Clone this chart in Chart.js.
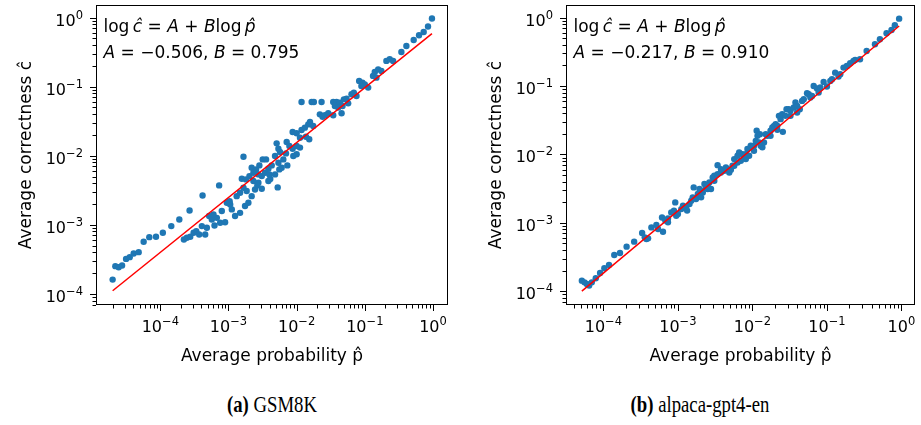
<!DOCTYPE html>
<html><head><meta charset="utf-8">
<script src="https://cdn.jsdelivr.net/npm/chart.js@4.4.1/dist/chart.umd.min.js"></script>
<style>
html,body{margin:0;padding:0;background:#fff;}
#wrap{position:relative;width:921px;height:425px;overflow:hidden;background:#fff;}
.cv{position:absolute;top:0;height:370px;}
.cap{position:absolute;top:390px;font-family:'Liberation Serif','Times New Roman',serif;font-size:24px;line-height:28px;white-space:nowrap;transform:translateX(-50%) scaleX(0.78);transform-origin:center;color:#000;}
</style></head>
<body><div id="wrap">
<div class="cv" style="left:0;width:460px"><canvas id="c1"></canvas></div>
<div class="cv" style="left:470px;width:451px"><canvas id="c2"></canvas></div>
<div class="cap" style="left:272px"><b>(a)</b> GSM8K</div>
<div class="cap" style="left:700px"><b>(b)</b> alpaca-gpt4-en</div>
</div>
<script>
// ---- data ----
const gsmP = [2.0e-5,2.19e-5,2.45e-5,2.75e-5,3.15e-5,3.56e-5,4.07e-5,4.82e-5,5.70e-5,6.90e-5,8.65e-5,1.09e-4,1.45e-4,1.90e-4,2.69e-4,4.17e-4,2.22e-4,2.45e-4,2.75e-4,3.08e-4,3.37e-4,3.72e-4,4.07e-4,4.56e-4,4.82e-4,5.21e-4,5.70e-4,6.24e-4,6.75e-4,7.55e-4,7.98e-4,7.30e-4,9.46e-4,1.06e-3,1.12e-3,1.25e-3,8.93e-4,1.48e-3,1.57e-3,1.75e-3,1.96e-3,2.19e-3,2.45e-3,2.75e-3,3.08e-3,3.85e-3,6.03e-4,1.04e-3,1.32e-3,1.48e-3,1.85e-3,1.66e-3,2.03e-3,1.81e-3,2.32e-3,2.65e-3,3.08e-3,4.1e-3,1.66e-3,2.19e-3,2.54e-3,2.75e-3,2.32e-3,3.44e-3,3.98e-3,4.82e-3,5.57e-3,2.84e-3,3.18e-3,3.56e-3,4.82e-3,5.70e-3,5.40e-3,6.38e-3,7.30e-3,4.31e-3,3.85e-3,6.03e-3,5.27e-3,5.09e-3,5.40e-3,7.14e-3,7.82e-3,8.73e-3,6.98e-3,1.00e-2,1.12e-2,8.93e-3,1.00e-2,8.73e-3,1.00e-2,1.18e-2,1.12e-2,1.37e-2,1.53e-2,1.57e-2,1.48e-2,1.32e-2,1.75e-2,2.19e-2,2.40e-2,2.60e-2,2.91e-2,3.44e-2,4.56e-2,1.18e-2,1.66e-2,1.79e-2,2.32e-2,3.44e-2,3.85e-2,4.31e-2,4.93e-2,5.40e-2,3.64e-2,4.07e-2,4.71e-2,6.38e-2,6.90e-2,7.55e-2,5.70e-2,8.26e-2,9.24e-2,1.00e-1,1.12e-1,1.32e-1,1.40e-1,1.57e-1,1.75e-1,1.48e-1,2.07e-1,2.32e-1,2.60e-1,3.44e-1,4.07e-1,5.21e-1,6.24e-1,7.30e-1,8.45e-1,9.66e-1,8.9e-2];
const gsmC = [1.61e-4,2.52e-4,2.43e-4,2.58e-4,3.21e-4,3.40e-4,3.85e-4,4.02e-4,5.68e-4,6.62e-4,6.70e-4,7.66e-4,9.57e-4,1.19e-3,1.61e-3,2.66e-3,6.12e-4,6.48e-4,6.70e-4,7.66e-4,8.09e-4,7.24e-4,9.57e-4,7.24e-4,9.06e-4,1.34e-3,1.19e-3,9.77e-4,1.26e-3,1.07e-3,1.58e-3,3.72e-3,2.08e-3,1.97e-3,1.67e-3,1.34e-3,1.09e-3,1.49e-3,4.64e-3,1.87e-3,2.08e-3,2.60e-3,3.25e-3,4.06e-3,5.07e-3,4.30e-3,1.41e-3,2.20e-3,2.60e-3,2.91e-3,3.08e-3,3.44e-3,5.07e-3,4.54e-3,4.30e-3,3.72e-3,3.33e-3,4.6e-3,9.68e-3,6.70e-3,6.34e-3,5.36e-3,5.68e-3,5.68e-3,5.36e-3,5.36e-3,6.34e-3,7.24e-3,8.85e-3,8.85e-3,9.89e-3,1.13e-2,7.92e-3,8.85e-3,7.24e-3,7.24e-3,6.48e-3,6.70e-3,3.48e-3,1.51e-2,1.26e-2,1.58e-2,1.38e-2,1.26e-2,1.08e-2,1.38e-2,1.31e-2,9.89e-3,1.05e-2,2.20e-2,2.11e-2,2.36e-2,1.82e-2,1.88e-2,1.73e-2,3.08e-2,2.84e-2,2.55e-2,2.69e-2,3.97e-2,3.67e-2,3.85e-2,4.11e-2,3.85e-2,4.11e-2,6.00e-2,6.00e-2,6.00e-2,6.00e-2,6.00e-2,6.00e-2,5.86e-2,6.55e-2,6.70e-2,5.25e-2,4.97e-2,5.25e-2,7.74e-2,8.18e-2,7.33e-2,5.73e-2,1.21e-1,1.14e-1,1.08e-1,9.68e-2,1.43e-1,1.63e-1,1.78e-1,1.69e-1,1.35e-1,2.36e-1,2.49e-1,2.36e-1,3.18e-1,3.88e-1,4.74e-1,5.55e-1,6.19e-1,7.41e-1,9.68e-1,1.02e-1];
const gsmFit = {A: -0.506, B: 0.795};
const gsmFitText = ['\u22120.506', '0.795'];

const alpP = [5.14e-5,5.58e-5,6.00e-5,6.44e-5,6.99e-5,7.90e-5,9.03e-5,1.03e-4,1.19e-4,1.40e-4,1.67e-4,2.05e-4,2.59e-4,3.31e-4,3.78e-4,3.98e-4,4.41e-4,5.14e-4,5.41e-4,6.31e-4,6.12e-4,6.78e-4,7.36e-4,8.15e-4,8.85e-4,9.21e-4,1.00e-3,1.11e-3,1.17e-3,1.29e-3,1.33e-3,1.43e-3,1.51e-3,1.58e-3,1.63e-3,1.75e-3,1.85e-3,1.95e-3,2.05e-3,2.16e-3,2.27e-3,2.39e-3,2.51e-3,2.78e-3,2.64e-3,2.93e-3,3.08e-3,3.41e-3,3.41e-3,3.78e-3,4.19e-3,3.78e-3,4.64e-3,4.41e-3,4.89e-3,5.14e-3,5.70e-3,5.70e-3,6.31e-3,6.31e-3,6.64e-3,7.36e-3,7.74e-3,8.15e-3,8.57e-3,9.03e-3,9.50e-3,1.00e-2,1.05e-2,1.11e-2,1.14e-2,1.17e-2,1.26e-2,1.29e-2,1.36e-2,1.43e-2,1.51e-2,1.58e-2,1.75e-2,1.85e-2,1.95e-2,2.05e-2,2.16e-2,2.27e-2,2.39e-2,2.51e-2,2.56e-2,2.78e-2,2.87e-2,3.08e-2,3.24e-2,3.59e-2,3.78e-2,3.98e-2,4.32e-2,4.64e-2,4.89e-2,5.41e-2,5.70e-2,6.31e-2,6.64e-2,7.36e-2,7.74e-2,8.15e-2,9.03e-2,1.11e-1,1.17e-1,1.29e-1,1.51e-1,1.67e-1,1.85e-1,2.05e-1,2.27e-1,2.39e-1,3.41e-1,4.41e-1,5.14e-1,6.31e-1,7.36e-1,8.15e-1,9.31e-1,2.05e-3,2.51e-3,3.08e-3,5.41e-3,6.99e-3,8.15e-3,1.05e-2,1.23e-2,1.75e-2,2.16e-2,3.24e-2,3.98e-2,6.00e-2,1.00e-1,1.43e-1,2.78e-1,3.59e-4,7.36e-4,9.50e-4];
const alpC = [1.43e-4,1.35e-4,1.28e-4,1.21e-4,1.35e-4,1.55e-4,1.85e-4,2.17e-4,2.42e-4,3.39e-4,3.63e-4,4.49e-4,5.31e-4,7.11e-4,5.81e-4,5.94e-4,8.59e-4,9.29e-4,8.13e-4,7.43e-4,1.20e-3,1.08e-3,1.16e-3,1.42e-3,1.51e-3,1.99e-3,1.35e-3,1.59e-3,1.78e-3,1.68e-3,1.51e-3,1.88e-3,2.11e-3,2.36e-3,3.30e-3,2.23e-3,2.64e-3,3.12e-3,2.36e-3,2.79e-3,3.69e-3,3.30e-3,3.12e-3,3.12e-3,3.90e-3,4.62e-3,4.89e-3,6.98e-3,5.16e-3,5.46e-3,5.78e-3,6.11e-3,6.11e-3,6.46e-3,5.46e-3,5.97e-3,6.84e-3,8.55e-3,7.64e-3,9.57e-3,1.07e-2,1.01e-2,9.04e-3,8.55e-3,1.20e-2,9.57e-3,1.34e-2,1.27e-2,1.34e-2,1.58e-2,2.22e-2,1.87e-2,1.98e-2,1.34e-2,1.27e-2,1.50e-2,1.98e-2,1.87e-2,2.22e-2,2.48e-2,2.62e-2,2.77e-2,2.62e-2,3.67e-2,3.28e-2,3.88e-2,2.14e-2,3.67e-2,4.59e-2,4.59e-2,4.34e-2,4.85e-2,5.74e-2,5.13e-2,4.59e-2,6.07e-2,6.43e-2,7.86e-2,7.60e-2,7.18e-2,1.00e-1,9.20e-2,8.04e-2,9.51e-2,1.15e-1,1.19e-1,1.26e-1,1.57e-1,1.49e-1,1.86e-1,1.97e-1,2.15e-1,2.33e-1,2.41e-1,3.26e-1,4.08e-1,4.83e-1,5.90e-1,6.61e-1,7.73e-1,9.67e-1,2.95e-3,3.49e-3,4.13e-3,6.84e-3,8.09e-3,1.01e-2,1.13e-2,1.50e-2,1.87e-2,2.29e-2,3.67e-2,4.10e-2,6.79e-2,9.84e-2,1.38e-1,2.46e-1,6.14e-4,1.02e-3,1.27e-3];
const alpFit = {A: -0.217, B: 0.910};
const alpFitText = ['\u22120.217', '0.910'];

// axis ranges and tick labels
const gsmXRange = [1.14e-5, 1.66];
const gsmYRange = [6.9e-5, 1.52];
const alpXRange = [3.15e-5, 1.52];
const alpYRange = [6.3e-5, 1.53];
const tickExps = [-4, -3, -2, -1, 0];
const tickBase = '10';
const tickSup = ['\u22124', '\u22123', '\u22122', '\u22121', '0'];
const xTitle = 'Average probability p\u0302';
const yTitle = 'Average correctness \u0109';

const FONT = '"DejaVu Sans", "Liberation Sans", sans-serif';

function isMajor(v) { const l = Math.log10(v); return Math.abs(l - Math.round(l)) < 1e-7; }
function supFor(v) {
  const l = Math.log10(v);
  for (let i = 0; i < tickExps.length; i++) if (Math.abs(l - tickExps[i]) < 1e-7) return tickSup[i];
  return null;
}
function makeTicks(min, max) {
  const out = [];
  for (let e = Math.floor(Math.log10(min)); e <= Math.ceil(Math.log10(max)); e++) {
    for (let k = 1; k <= 9; k++) {
      const v = Number((k * Math.pow(10, e)).toPrecision(10));
      if (v >= min && v <= max) out.push({value: v, major: k === 1});
    }
  }
  return out;
}

function decorPlugin(fitText) {
  return {
    id: 'decor',
    afterDraw(chart) {
      const {ctx, chartArea: a, scales} = chart;
      const xs = scales.x, ys = scales.y;
      ctx.save();
      // tick marks
      ctx.strokeStyle = '#000';
      ctx.lineWidth = 1;
      ctx.beginPath();
      xs.ticks.forEach(t => {
        const px = Math.round(xs.getPixelForValue(t.value)) + 0.5;
        const L = isMajor(t.value) ? 6 : 3.5;
        ctx.moveTo(px, a.bottom); ctx.lineTo(px, a.bottom + L);
      });
      ys.ticks.forEach(t => {
        const py = Math.round(ys.getPixelForValue(t.value)) + 0.5;
        const L = isMajor(t.value) ? 6 : 3.5;
        ctx.moveTo(a.left - L, py); ctx.lineTo(a.left, py);
      });
      ctx.stroke();
      // frame
      ctx.strokeRect(Math.round(a.left) + 0.5, Math.round(a.top) + 0.5, Math.round(a.right - a.left) - 1, Math.round(a.bottom - a.top) - 1);
      // tick labels 10^n
      const fBase = '16px ' + FONT, fSup = '11.5px ' + FONT;
      ctx.fillStyle = '#000';
      ctx.textBaseline = 'alphabetic';
      ctx.textAlign = 'left';
      const drawPow = (sup, x, y, align) => {
        ctx.font = fBase; const wb = ctx.measureText(tickBase).width;
        ctx.font = fSup; const ws = ctx.measureText(sup).width;
        const w = wb + ws;
        const x0 = align === 'center' ? x - w / 2 : x - w;
        ctx.font = fBase; ctx.fillText(tickBase, x0, y);
        ctx.font = fSup; ctx.fillText(sup, x0 + wb, y - 7);
      };
      xs.ticks.forEach(t => {
        const s = supFor(t.value);
        if (s !== null) drawPow(s, xs.getPixelForValue(t.value), a.bottom + 26.5, 'center');
      });
      ys.ticks.forEach(t => {
        const s = supFor(t.value);
        if (s !== null) drawPow(s, a.left - 13, ys.getPixelForValue(t.value) + 8, 'right');
      });
      // annotation
      const reg = '17px ' + FONT, ita = 'italic 17px ' + FONT;
      const drawLine = (segs, x, y) => {
        segs.forEach(([s, it]) => {
          ctx.font = it ? ita : reg;
          ctx.fillText(s, x, y);
          x += ctx.measureText(s).width;
        });
      };
      drawLine([['log', 0], ['\u2009', 0], ['\u0109', 1], [' = ', 0], ['A', 1], [' + ', 0], ['B', 1], ['log', 0], ['\u2009', 0], ['p\u0302', 1]], a.left + 7.5, a.top + 26.5);
      drawLine([['A', 1], [' = ' + fitText[0] + ', ', 0], ['B', 1], [' = ' + fitText[1], 0]], a.left + 7.5, a.top + 52.5);
      ctx.restore();
    }
  };
}

function build(id, P, C, fit, fitText, xr, yr, padRight) {
  const pts = P.map((p, i) => ({x: p, y: C[i]}));
  const fp = [Math.min(...P), Math.max(...P)];
  const fitPts = fp.map(p => ({x: p, y: Math.exp(fit.A) * Math.pow(p, fit.B)}));
  new Chart(document.getElementById(id), {
    type: 'scatter',
    data: {datasets: [
      {type: 'line', data: fitPts, borderColor: '#ff0000', borderWidth: 1.5, pointRadius: 0, fill: false, order: 0, tension: 0},
      {data: pts, backgroundColor: '#1f77b4', borderWidth: 0, pointRadius: 3.2, pointHoverRadius: 3.2, order: 1}
    ]},
    options: {
      responsive: true, maintainAspectRatio: false, animation: false, events: [],
      layout: {padding: {left: 0, top: 5, right: padRight, bottom: 0}},
      plugins: {legend: {display: false}, tooltip: {enabled: false}},
      scales: {
        x: {
          type: 'logarithmic', min: xr[0], max: xr[1],
          afterBuildTicks: s => { s.ticks = makeTicks(xr[0], xr[1]); },
          afterFit: s => { s.height = 65; },
          grid: {display: false, drawTicks: false}, border: {display: false},
          ticks: {display: false, autoSkip: false},
          title: {display: true, text: xTitle, color: '#000', font: {family: FONT, size: 17}, padding: {top: 0, bottom: 3}}
        },
        y: {
          type: 'logarithmic', min: yr[0], max: yr[1],
          afterBuildTicks: s => { s.ticks = makeTicks(yr[0], yr[1]); },
          afterFit: s => { s.width = 96; },
          grid: {display: false, drawTicks: false}, border: {display: false},
          ticks: {display: false, autoSkip: false},
          title: {display: true, text: yTitle, color: '#000', font: {family: FONT, size: 17}, padding: {top: 16, bottom: 0}}
        }
      }
    },
    plugins: [decorPlugin(fitText)]
  });
}

build('c1', gsmP, gsmC, gsmFit, gsmFitText, gsmXRange, gsmYRange, 12);
build('c2', alpP, alpC, alpFit, alpFitText, alpXRange, alpYRange, 6);
</script>
</body></html>
